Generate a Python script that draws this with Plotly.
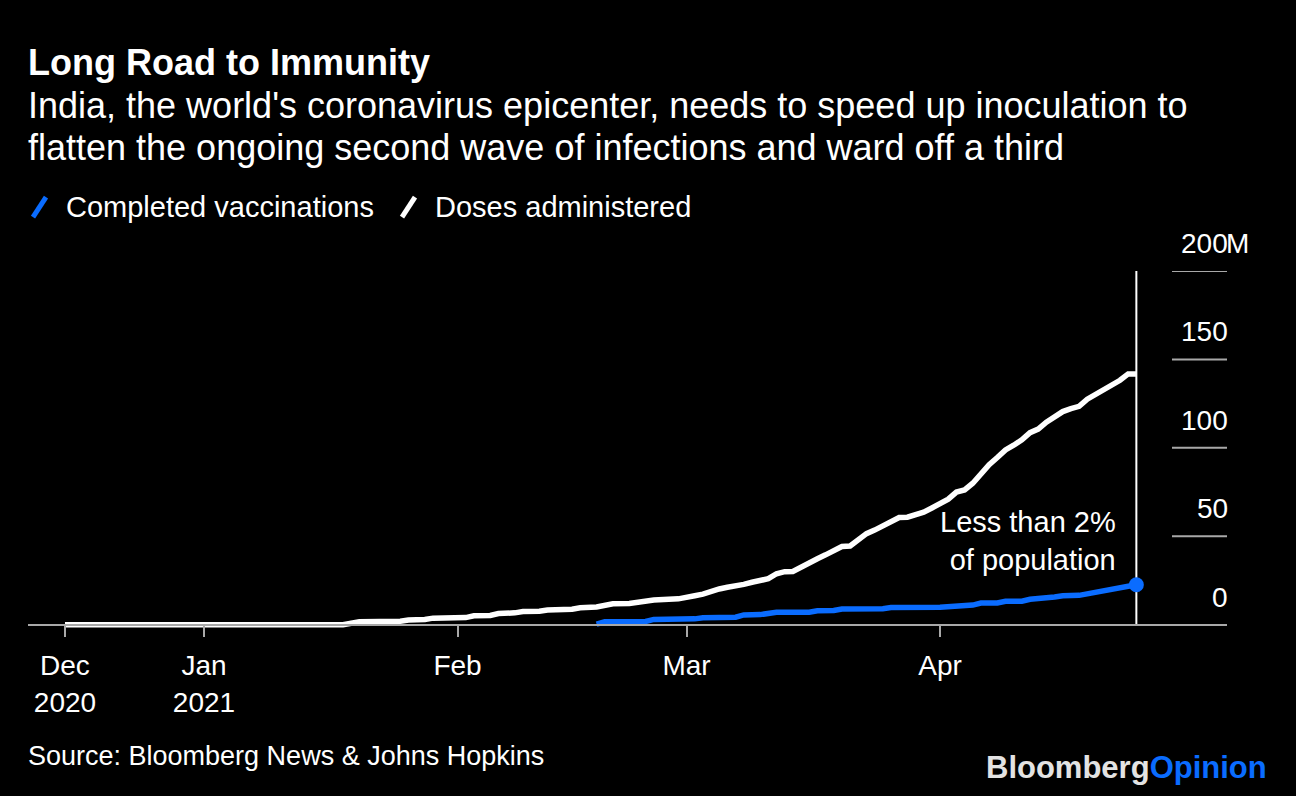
import plotly.graph_objects as go

# ---------------- data (millions) ----------------
doses_dates = [
    "2020-12-15", "2021-01-18", "2021-01-19", "2021-01-20", "2021-01-25", "2021-01-26",
    "2021-01-28", "2021-01-29", "2021-02-02", "2021-02-03", "2021-02-05", "2021-02-06",
    "2021-02-08", "2021-02-09", "2021-02-11", "2021-02-12", "2021-02-15", "2021-02-16",
    "2021-02-18", "2021-02-19", "2021-02-20", "2021-02-22", "2021-02-23", "2021-02-24",
    "2021-02-25", "2021-02-28", "2021-03-01", "2021-03-02", "2021-03-03", "2021-03-04",
    "2021-03-05", "2021-03-06", "2021-03-07", "2021-03-08", "2021-03-09", "2021-03-10",
    "2021-03-11", "2021-03-12", "2021-03-13", "2021-03-14", "2021-03-15", "2021-03-16",
    "2021-03-17", "2021-03-18", "2021-03-19", "2021-03-20", "2021-03-21", "2021-03-22",
    "2021-03-23", "2021-03-24", "2021-03-25", "2021-03-26", "2021-03-27", "2021-03-28",
    "2021-03-29", "2021-03-30", "2021-03-31", "2021-04-01", "2021-04-02", "2021-04-03",
    "2021-04-04", "2021-04-05", "2021-04-06", "2021-04-07", "2021-04-08", "2021-04-09",
    "2021-04-10", "2021-04-11", "2021-04-12", "2021-04-13", "2021-04-14", "2021-04-15",
    "2021-04-16", "2021-04-17", "2021-04-18", "2021-04-19", "2021-04-20", "2021-04-21",
    "2021-04-22", "2021-04-23", "2021-04-24", "2021-04-25",
]
doses_values = [
    0, 0, 0.8, 1.6, 1.9, 2.6,
    2.9, 3.7, 4.0, 5.0, 5.2, 6.3,
    6.7, 7.4, 7.6, 8.3, 8.7, 9.6,
    10.0, 10.8, 11.8, 12.0, 12.9, 13.1,
    14.0, 14.6, 15.2, 16.4, 17.3, 19.0,
    20.2, 21.2, 21.8, 22.8, 24.0, 25.0,
    26.0, 28.8, 30.0, 30.1, 32.8, 35.5,
    37.3, 39.5, 42.0, 44.2, 44.5, 48.3,
    51.5, 53.5, 55.8, 58.0, 60.6, 60.8,
    62.0, 63.6, 66.0, 68.8, 71.0, 75.0,
    76.2, 80.0, 85.2, 90.5, 94.5, 98.8,
    101.5, 104.5, 108.6, 110.6, 114.5, 117.5,
    120.5, 122.2, 123.5, 127.5, 130.2, 132.5,
    135.3, 138.2, 141.8, 141.8,
]

completed_dates = [
    "2021-02-18", "2021-02-19", "2021-02-24", "2021-02-25", "2021-03-02", "2021-03-03",
    "2021-03-07", "2021-03-08", "2021-03-10", "2021-03-11", "2021-03-12", "2021-03-16",
    "2021-03-17", "2021-03-19", "2021-03-20", "2021-03-25", "2021-03-26", "2021-04-01",
    "2021-04-02", "2021-04-03", "2021-04-05", "2021-04-06", "2021-04-08", "2021-04-09",
    "2021-04-11", "2021-04-12", "2021-04-13", "2021-04-14", "2021-04-15", "2021-04-16",
    "2021-04-18", "2021-04-25",
]
completed_values = [
    0.3, 1.6, 1.8, 3.0, 3.3, 3.9,
    4.2, 5.5, 5.7, 6.0, 7.0, 7.1,
    7.9, 8.0, 8.9, 9.0, 9.7, 9.8,
    10.0, 10.9, 11.1, 12.2, 12.3, 13.2,
    13.3, 14.4, 14.6, 15.1, 15.7, 16.4,
    16.6, 22.6,
]

x_tickvals = ["2020-12-15", "2021-01-01", "2021-02-01", "2021-03-01", "2021-04-01"]
x_ticktext = ["Dec<br>2020", "Jan<br>2021", "Feb", "Mar", "Apr"]
y_tickvals = [0, 50, 100, 150, 200]
y_ticktext = ["0", "50", "100", "150", "200"]

series_names = ["Completed vaccinations", "Doses administered"]
BLUE = "#0a6cff"
WHITE = "#ffffff"
GRAY = "#a8a8a8"
FONT = "Liberation Sans"

# ---------------- layout geometry ----------------
W, H = 1296, 796
L, R = 28, 1227
TOP, BOT = 271, 630.3
Y0, Y1 = -3, 200


def fx(px):
    return (px - L) / (R - L)


def fy(py):
    return (BOT - py) / (BOT - TOP)


fig = go.Figure()

fig.add_trace(go.Scatter(
    x=doses_dates, y=doses_values, mode="lines",
    line=dict(color=WHITE, width=5.5), name=series_names[1],
    showlegend=False, hoverinfo="skip",
))
fig.add_trace(go.Scatter(
    x=completed_dates, y=completed_values, mode="lines",
    line=dict(color=BLUE, width=5.5), name=series_names[0],
    showlegend=False, hoverinfo="skip",
))
fig.add_trace(go.Scatter(
    x=[completed_dates[-1]], y=[completed_values[-1]], mode="markers",
    marker=dict(color=BLUE, size=15), showlegend=False, hoverinfo="skip",
    cliponaxis=False,
))

shapes = []
# vertical line at the latest date
shapes.append(dict(type="line", xref="x", yref="y",
                   x0=doses_dates[-1], x1=doses_dates[-1], y0=0, y1=200,
                   line=dict(color=WHITE, width=2), layer="below"))
# short gridlines on the right
for v in y_tickvals[1:]:
    shapes.append(dict(type="line", xref="paper", yref="y",
                       x0=fx(1172), x1=1, y0=v, y1=v,
                       line=dict(color=GRAY, width=2), layer="below"))
# legend slashes
for (x0, col) in [(33, BLUE), (402, WHITE)]:
    shapes.append(dict(type="line", xref="paper", yref="paper",
                       x0=fx(x0), x1=fx(x0 + 13), y0=fy(217), y1=fy(197),
                       line=dict(color=col, width=5)))

annotations = []
annotations.append(dict(text="<b>Long Road to Immunity</b>", xref="paper", yref="paper",
                        x=fx(26), y=fy(62), xanchor="left", yanchor="middle",
                        showarrow=False, font=dict(family=FONT, size=36, color=WHITE)))
sub_lines = ["India, the world's coronavirus epicenter, needs to speed up inoculation to",
             "flatten the ongoing second wave of infections and ward off a third"]
for i, t in enumerate(sub_lines):
    annotations.append(dict(text=t, xref="paper", yref="paper",
                            x=fx(26), y=fy(105 + 42 * i), xanchor="left", yanchor="middle",
                            showarrow=False, font=dict(family=FONT, size=36, color=WHITE)))
for name, xpos in zip(series_names, [64, 433]):
    annotations.append(dict(text=name, xref="paper", yref="paper",
                            x=fx(xpos), y=fy(207), xanchor="left", yanchor="middle",
                            showarrow=False, font=dict(family=FONT, size=29, color=WHITE)))
# y tick labels above gridlines
for v, t in zip(y_tickvals, y_ticktext):
    annotations.append(dict(text=t, xref="paper", yref="y", x=1, y=v,
                            xanchor="right", yanchor="bottom", yshift=10, xshift=3,
                            showarrow=False, font=dict(family=FONT, size=28, color=WHITE)))
annotations.append(dict(text="M", xref="paper", yref="y", x=1, y=y_tickvals[-1],
                        xanchor="left", yanchor="bottom", yshift=10, xshift=-3,
                        showarrow=False, font=dict(family=FONT, size=28, color=WHITE)))
annotations.append(dict(text="Less than 2%<br>of population", xref="x", yref="y",
                        x=completed_dates[-1], y=47.5, xanchor="right", yanchor="middle",
                        xshift=-18, align="right",
                        showarrow=False, font=dict(family=FONT, size=29, color=WHITE)))
annotations.append(dict(text="Source: Bloomberg News & Johns Hopkins", xref="paper", yref="paper",
                        x=fx(26), y=fy(756), xanchor="left", yanchor="middle",
                        showarrow=False, font=dict(family=FONT, size=27, color=WHITE)))
annotations.append(dict(text="<b><span style='color:#e3e3e3'>Bloomberg</span>"
                             "<span style='color:#0a6cff'>Opinion</span></b>",
                        xref="paper", yref="paper", x=fx(1269), y=fy(768),
                        xanchor="right", yanchor="middle",
                        showarrow=False, font=dict(family=FONT, size=31, color=WHITE)))

fig.update_layout(
    width=W, height=H,
    margin=dict(l=L, r=W - R, t=TOP, b=H - BOT, pad=0),
    paper_bgcolor="#000000", plot_bgcolor="#000000",
    showlegend=False,
    shapes=shapes, annotations=annotations,
    font=dict(family=FONT, color=WHITE),
    xaxis=dict(
        type="date",
        range=["2020-12-10 11:30", "2021-05-06 02:00"],
        tickvals=x_tickvals, ticktext=x_ticktext,
        tickfont=dict(family=FONT, size=28, color=WHITE),
        ticklabelstandoff=5,
        showgrid=False, zeroline=False,
        showline=True, linecolor=GRAY, linewidth=2,
        ticks="outside", ticklen=11, tickwidth=2, tickcolor=GRAY,
        anchor="free", position=(0 - Y0) / (Y1 - Y0),
        fixedrange=True,
    ),
    yaxis=dict(
        range=[Y0, Y1], visible=False, fixedrange=True,
    ),
)

fig.write_html("out.html", config={"displayModeBar": False},
               post_script="document.body.style.margin='0';")
